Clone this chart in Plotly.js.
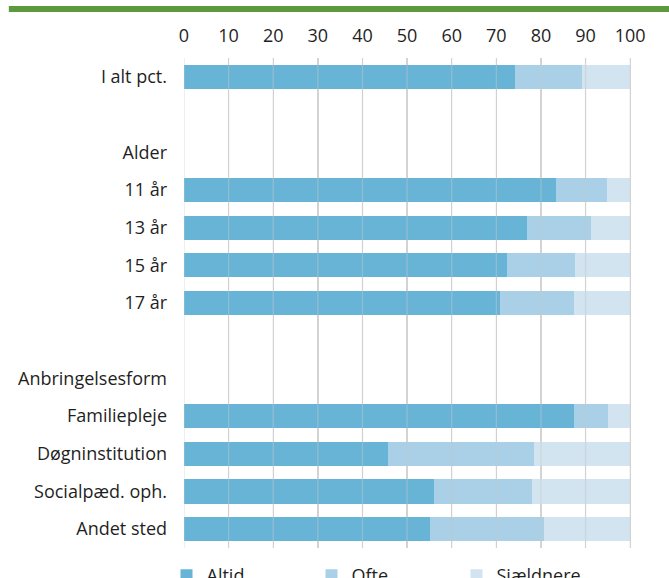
<!DOCTYPE html>
<html>
<head>
<meta charset="utf-8">
<script src="https://cdn.plot.ly/plotly-3.0.1.min.js"></script>
<style>html,body{margin:0;padding:0;background:#fff;}#chart{width:669px;height:578px;}</style>
</head>
<body>
<div id="chart"></div>
<script>
const categories = ["I alt pct.", "", "Alder", "11 år", "13 år", "15 år", "17 år", "", "Anbringelsesform", "Familiepleje", "Døgninstitution", "Socialpæd. oph.", "Andet sted"];
const altid     = [74.1, null, null, 83.3, 76.8, 72.4, 70.8, null, null, 87.3, 45.8, 56.1, 55.2];
const ofte      = [15.0, null, null, 11.6, 14.3, 15.3, 16.5, null, null, 7.8, 32.6, 21.8, 25.4];
const sjaeldnere= [10.9, null, null, 5.1, 8.9, 12.3, 12.7, null, null, 4.9, 21.6, 22.1, 19.4];
const seriesNames = ["Altid", "Ofte", "Sjældnere"];
const xTicks = [0, 10, 20, 30, 40, 50, 60, 70, 80, 90, 100];

const colors = ["#67b4d7", "#a9d0e6", "#d2e4f0"];
const yPos = categories.map((c, i) => i);
const font = {family: "Open Sans, sans-serif", size: 18, color: "#1f1f1f"};

const traces = [altid, ofte, sjaeldnere].map((vals, k) => ({
  type: "bar",
  orientation: "h",
  name: seriesNames[k],
  x: vals,
  y: yPos,
  marker: {color: colors[k]},
  hoverinfo: "skip"
}));

// faint grid lines drawn over the bars (as in the reference)
const gridOver = xTicks.map(t => ({
  type: "line", xref: "x", yref: "paper", x0: t, x1: t, y0: 0, y1: 1,
  line: {color: "rgba(200,200,200,0.45)", width: 1.3}, layer: "above"
}));

const layout = {
  width: 669, height: 578,
  margin: {l: 183.5, r: 37, t: 58, b: 30},
  paper_bgcolor: "#fff", plot_bgcolor: "#fff",
  barmode: "stack",
  bargap: 0.36,
  font: font,
  showlegend: true,
  legend: {
    orientation: "h", x: 166.5 / 669, xanchor: "left", xref: "container",
    y: 1 - 557 / 578, yanchor: "top", yref: "container",
    font: font, entrywidth: 100, entrywidthmode: "pixels",
    traceorder: "normal", itemwidth: 30
  },
  xaxis: {
    side: "top", range: [0, 100.4], tickvals: xTicks, ticktext: xTicks.map(String),
    showgrid: true, gridcolor: "#d9d9d9", gridwidth: 1.3, zeroline: false,
    showline: false, ticks: "", ticklabelstandoff: 11, fixedrange: true
  },
  yaxis: {
    range: [categories.length - 0.5, -0.5], tickvals: yPos, ticktext: categories,
    showgrid: false, zeroline: false, showline: false, ticks: "", ticklabelstandoff: 16
  },
  shapes: gridOver.concat([{
    type: "rect", xref: "paper", yref: "paper",
    x0: -0.391, x1: 1.09, y0: 1.0939, y1: 1.1061,
    fillcolor: "#5b9b3d", line: {width: 0}
  }])
};

Plotly.newPlot("chart", traces, layout, {staticPlot: true, displayModeBar: false});
</script>
</body>
</html>
